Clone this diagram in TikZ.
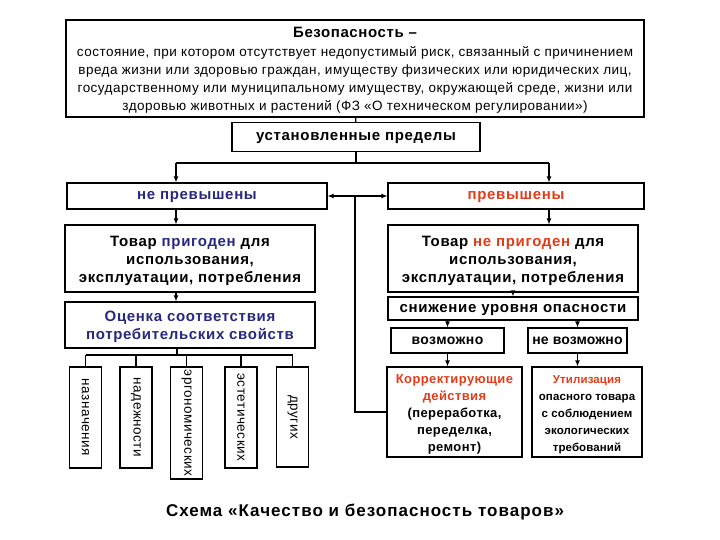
\documentclass[tikz,border=0pt]{standalone}
\usepackage{fontspec}
\setmainfont{Liberation Sans}
\usetikzlibrary{calc, positioning, arrows.meta}
\definecolor{okblue}{RGB}{40,40,125}
\definecolor{badred}{RGB}{225,60,25}
\newcommand{\spaced}[1]{\addfontfeatures{LetterSpace=#1}}
\tikzset{
  box/.style={draw, line width=1.1pt, align=center, inner sep=2pt, font=\fontsize{15}{18}\selectfont\bfseries\spaced{4.5}},
  oneline/.style={text height=10.5pt, text depth=3.5pt},
  vbox/.style={draw, line width=1.1pt, rotate=-90, inner sep=1pt, minimum height=32, font=\fontsize{13.5}{16}\selectfont\spaced{4}},
}

\begin{document}
\begin{tikzpicture}[x=1pt, y=-1pt, >={Latex[length=6pt,width=5pt]}, line width=1.1pt]
\useasboundingbox (0,0) rectangle (720,540);

% Definition and limits
\node[box, minimum width=578, minimum height=97, font=\fontsize{13.5}{18}\selectfont\spaced{3.5}] (bez) at (355,68.5)
  {\rule{0pt}{14pt}{\fontsize{15}{18}\selectfont\bfseries\spaced{4}Безопасность –}\\[1pt]состояние, при котором отсутствует недопустимый риск, связанный с причинением\\вреда жизни или здоровью граждан, имуществу физических или юридических лиц,\\государственному или муниципальному имуществу, окружающей среде, жизни или\\здоровью животных и растений (ФЗ «О техническом регулировании»)};
\node[box, oneline, minimum width=248, minimum height=29] (pred) at (356,137) {установленные пределы};

% Two branches
\node[box, oneline, minimum width=260, minimum height=26, text=okblue] (nop) at (197,196) {не превышены};
\node[box, oneline, minimum width=256, minimum height=26, text=badred] (pr) at (516,196) {превышены};
\node[box, minimum width=250, minimum height=67] (tov1) at (190,258.5) {\rule{0pt}{15pt}Товар \textcolor{okblue}{пригоден} для\\использования,\\эксплуатации, потребления};
\node[box, minimum width=250, minimum height=67] (tov2) at (513,258.5) {\rule{0pt}{15pt}Товар \textcolor{badred}{не пригоден} для\\использования,\\эксплуатации, потребления};

% Left branch: consumer properties
\node[box, minimum width=250, minimum height=46, text=okblue] (ocen) at (190,325) {\rule{0pt}{15pt}Оценка соответствия\\потребительских свойств};
\node[vbox, minimum width=101] (v1) at (85.5,417.5) {назначения};
\node[vbox, minimum width=101] (v2) at (136,417.5) {надежности};
\node[vbox, minimum width=112] (v3) at (186.5,423) {эргономических};
\node[vbox, minimum width=101] (v4) at (241,417.5) {эстетических};
\node[vbox, minimum width=100] (v5) at (292.5,417) {других};

% Right branch: hazard reduction
\node[box, oneline, minimum width=250, minimum height=23] (sniz) at (513,308.5) {снижение уровня опасности};
\node[box, oneline, minimum width=113, minimum height=25, font=\fontsize{14}{17}\selectfont\bfseries\spaced{3}] (voz) at (447.5,340.5) {возможно};
\node[box, oneline, minimum width=99, minimum height=25, font=\fontsize{14}{17}\selectfont\bfseries\spaced{1}] (nevoz) at (577.5,340.5) {не возможно};
\node[box, minimum width=135, minimum height=90, font=\fontsize{13}{17}\selectfont\bfseries\spaced{3}] (korr) at (454.5,412)
  {\rule{0pt}{13pt}\textcolor{badred}{Корректирующие}\\\textcolor{badred}{действия}\\(переработка,\\переделка,\\ремонт)};
\node[box, minimum width=110, minimum height=90, inner sep=1pt, font=\fontsize{11.5}{17}\selectfont\bfseries\spaced{1}] (util) at (587,412)
  {\rule{0pt}{13pt}\textcolor{badred}{Утилизация}\\опасного товара\\с соблюдением\\экологических\\требований};

% Caption
\node[font=\fontsize{17}{20}\selectfont\bfseries\spaced{6}] (title) at (365,512) {Схема «Качество и безопасность товаров»};

% Connections
\coordinate (fL) at (176,163);
\coordinate (fR) at (549,163);
\coordinate (mid) at (355,196);
\coordinate (bus) at (177,355);
\draw (bez) -- (pred);
\draw (pred.south) -- (pred.south |- fL);
\draw (fL) -- (fR);
\draw[->] (fL) -- (fL |- nop.north);
\draw[->] (fR) -- (fR |- pr.north);
\draw[<->] (nop) -- (pr);
\draw (mid) |- (korr.west);
\draw[->] (nop.south -| fL) -- (tov1.north -| fL);
\draw[->] (tov1.south -| fL) -- (ocen.north -| fL);
\draw[->] (pr.south -| fR) -- (tov2.north -| fR);
\draw[->] (tov2) -- (sniz);
\draw[->] (sniz.south -| voz) -- (voz);
\draw[->] (sniz.south -| nevoz) -- (nevoz);
\draw[->] (voz) -- (korr.north -| voz);
\draw[->] (nevoz) -- (util.north -| nevoz);
\draw (ocen.south -| bus) -- (bus);
\draw (v1.west |- bus) -- (v5.west |- bus);
\foreach \v in {v1,v2,v3,v4,v5}
  \draw (\v.west |- bus) -- (\v.west);
\end{tikzpicture}
\end{document}
